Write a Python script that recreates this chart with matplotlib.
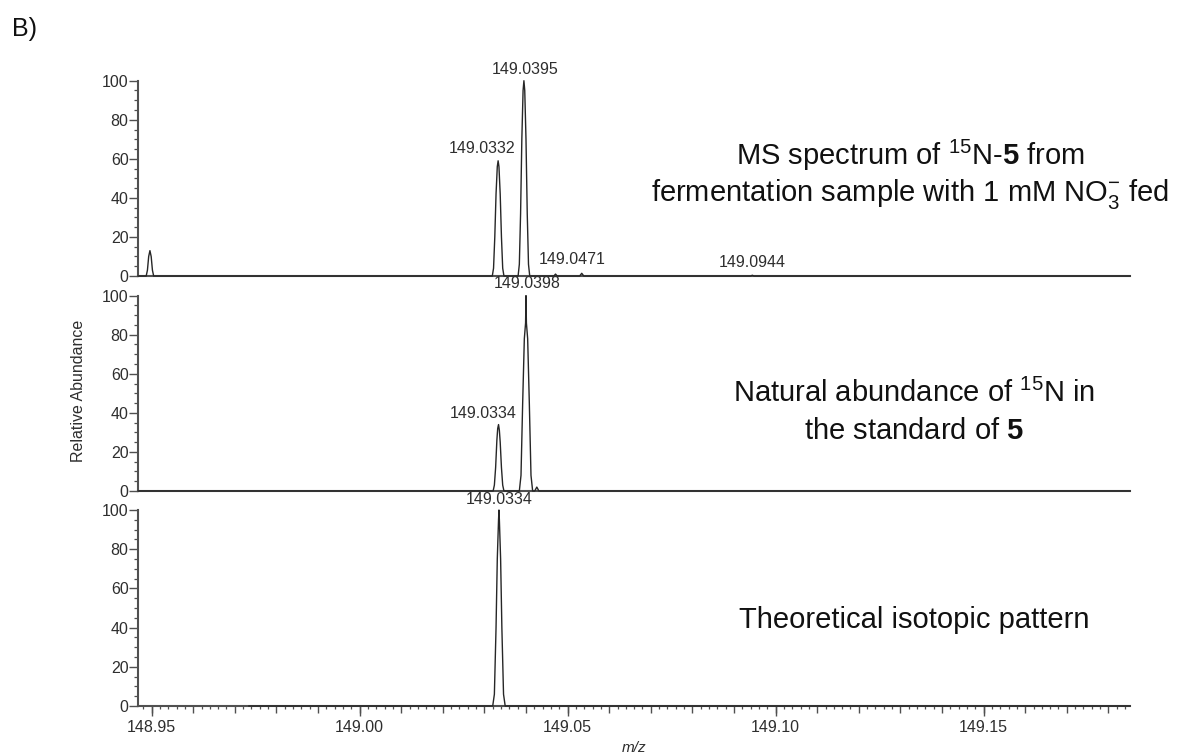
"""Spectres MS (panel B) : echantillon de fermentation, standard, motif isotopique theorique."""
import matplotlib
matplotlib.use("Agg")
import matplotlib.pyplot as plt
from matplotlib.ticker import MultipleLocator, NullFormatter

plt.rcParams["font.family"] = ["Liberation Sans", "DejaVu Sans"]
plt.rcParams["mathtext.fontset"] = "custom"
plt.rcParams["mathtext.rm"] = "Liberation Sans"
plt.rcParams["mathtext.it"] = "Liberation Sans:italic"
plt.rcParams["mathtext.bf"] = "Liberation Sans:bold"

# ---- donnees (m/z, abondance relative %) ----
ferm_mz = [148.9468, 148.9487, 148.9490, 148.9493, 148.9496, 148.9499, 148.9502, 148.9505,
           149.0319, 149.0322, 149.0325, 149.0328, 149.0331, 149.0333, 149.0335, 149.0338,
           149.0341, 149.0344, 149.0347,
           149.0381, 149.0384, 149.0387, 149.0390, 149.0393, 149.0395, 149.0397, 149.0400,
           149.0403, 149.0406, 149.0409,
           149.0467, 149.0471, 149.0475,
           149.0529, 149.0534, 149.0539,
           149.0940, 149.0944, 149.0948,
           149.1852]
ferm_ab = [0, 0, 3, 10, 13, 10, 3, 0,
           0, 4, 20, 42, 56, 59, 56, 42, 20, 4, 0,
           0, 6, 32, 70, 95, 100, 95, 70, 32, 6, 0,
           0, 1.0, 0,
           0, 1.4, 0,
           0, 0.4, 0,
           0]

std_mz = [148.9468,
          149.0321, 149.0324, 149.0327, 149.0330, 149.0332, 149.0334, 149.0336, 149.0338,
          149.0341, 149.0344, 149.0347,
          149.0384, 149.0388, 149.0392, 149.0396, 149.0399, 149.0400, 149.0401, 149.0404,
          149.0408, 149.0412, 149.0416,
          149.0421, 149.0426, 149.0431,
          149.1852]
std_ab = [0,
          0, 3, 12, 26, 32, 34, 31, 25, 12, 3, 0,
          0, 8, 45, 78, 86, 100, 86, 78, 45, 8, 0,
          0, 2, 0,
          0]

theo_mz = [148.9734,
           149.0320, 149.0324, 149.0328, 149.0331, 149.0334, 149.0335, 149.0336, 149.0339,
           149.0342, 149.0346, 149.0350,
           149.1852]
theo_ab = [0, 0, 6, 40, 75, 95, 100, 95, 75, 40, 6, 0, 0]

# etiquettes de pics (texte, position m/z, hauteur du bas du texte)
ferm_labels = ["149.0395", "149.0332", "149.0471", "149.0944"]
ferm_label_mz = [149.0397, 149.0294, 149.0510, 149.0945]
ferm_label_y = [102.0, 61.5, 4.5, 3.0]

std_labels = ["149.0398", "149.0334"]
std_label_mz = [149.0402, 149.0296]
std_label_y = [102.3, 35.8]

theo_labels = ["149.0334"]
theo_label_mz = [149.0335]
theo_label_y = [101.3]

X_MIN, X_MAX = 148.9468, 149.1852
COL_LINE = "#262626"
COL_AXIS = "#505050"
COL_TXT = "#2e2e2e"

fig = plt.figure(figsize=(11.89, 7.55), dpi=100, facecolor="white")

left, width = 0.1163, 0.8341
rects = [(0.6344, 0.2587), (0.3497, 0.2587), (0.0649, 0.2596)]
series = [(ferm_mz, ferm_ab, ferm_labels, ferm_label_mz, ferm_label_y),
          (std_mz, std_ab, std_labels, std_label_mz, std_label_y),
          (theo_mz, theo_ab, theo_labels, theo_label_mz, theo_label_y)]

axes = []
for (bottom, height), (mz, ab, labs, lx, ly) in zip(rects, series):
    ax = fig.add_axes([left, bottom, width, height])
    ax.plot(mz, ab, color=COL_LINE, linewidth=1.0, clip_on=False, zorder=3)
    for txt, x, y in zip(labs, lx, ly):
        ax.text(x, y, txt, ha="center", va="bottom", fontsize=11.5, color=COL_TXT)
    ax.set_xlim(X_MIN, X_MAX)
    ax.set_ylim(0, 100)
    for side in ("top", "right"):
        ax.spines[side].set_visible(False)
    for side in ("left", "bottom"):
        ax.spines[side].set_color(COL_AXIS)
        ax.spines[side].set_linewidth(1.5)
    ax.yaxis.set_major_locator(MultipleLocator(20))
    ax.yaxis.set_minor_locator(MultipleLocator(5))
    ax.tick_params(axis="y", which="major", length=6.5, width=1.0, color=COL_AXIS,
                   labelsize=11.5, labelcolor=COL_TXT, pad=0.5)
    ax.tick_params(axis="y", which="minor", length=3, width=0.9, color=COL_AXIS)
    ax.set_facecolor("none")
    axes.append(ax)

# panneaux du haut : pas de graduations en x
for ax in axes[:2]:
    ax.tick_params(axis="x", which="both", bottom=False, labelbottom=False)

# panneau du bas : graduations 0.002 / 0.01 / 0.05
ax3 = axes[2]
ax3.xaxis.set_major_locator(MultipleLocator(0.01))
ax3.xaxis.set_minor_locator(MultipleLocator(0.002))
ax3.xaxis.set_major_formatter(NullFormatter())
ax3.tick_params(axis="x", which="major", length=5, width=1.0, color=COL_AXIS)
ax3.tick_params(axis="x", which="minor", length=2.5, width=0.9, color=COL_AXIS)
sec = ax3.secondary_xaxis("bottom")
sec.set_xticks([148.95, 149.00, 149.05, 149.10, 149.15])
sec.set_xticklabels(["148.95", "149.00", "149.05", "149.10", "149.15"])
sec.spines["bottom"].set_visible(False)
sec.tick_params(axis="x", length=7, width=1.0, color=COL_AXIS,
                labelsize=11.5, labelcolor=COL_TXT, pad=3)

# textes
fig.text(0.0101, 0.952, "B)", fontsize=18, color="#111111", va="baseline")
fig.text(0.0664, 0.482, "Relative Abundance", rotation=90, ha="center", va="center",
         fontsize=11.5, color=COL_TXT)
fig.text(0.5333, 1 - 748 / 755, "m/z", style="italic", ha="center", va="center",
         fontsize=11, color=COL_TXT)

big = dict(ha="center", va="baseline", fontsize=21, color="#111111")
fig.text(0.7654, 0.7815, r"MS spectrum of $^{15}$N-$\mathbf{5}$ from", **big)
fig.text(0.7654, 0.7338, r"fermentation sample with 1 mM NO$_{3}^{-}$ fed", **big)
fig.text(0.7687, 0.4671, r"Natural abundance of $^{15}$N in", **big)
fig.text(0.7687, 0.4185, r"the standard of $\mathbf{5}$", **big)
fig.text(0.7687, 0.1678, "Theoretical isotopic pattern", **big)

fig.savefig("out.png", dpi=100, facecolor="white")
